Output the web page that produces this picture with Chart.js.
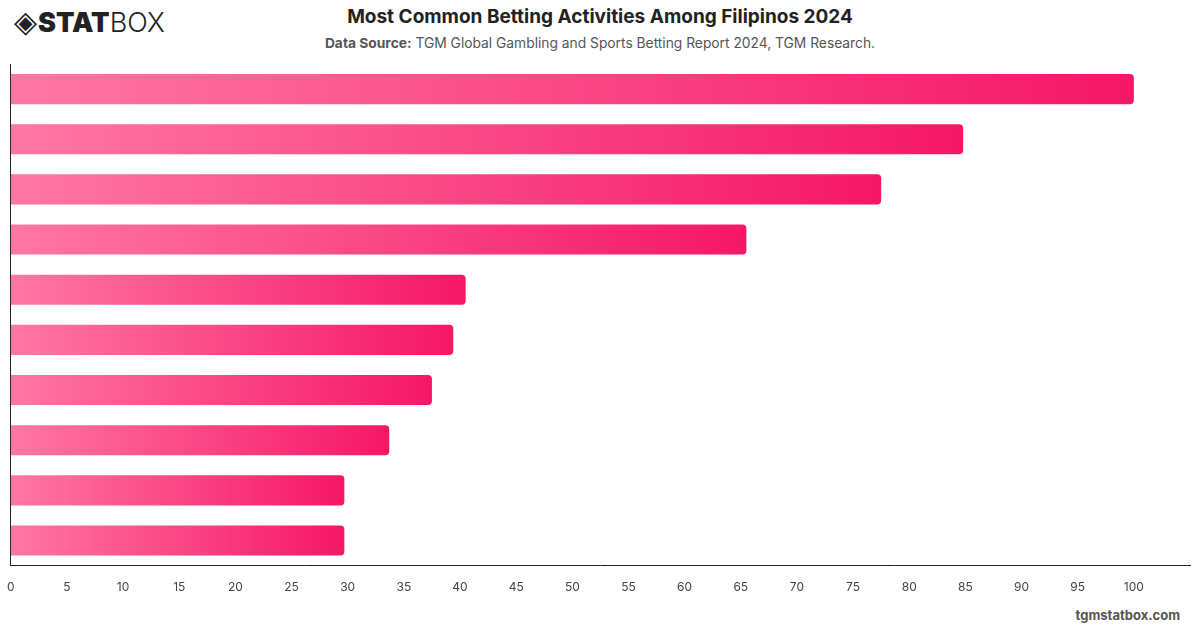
<!DOCTYPE html>
<html>
<head>
<meta charset="utf-8">
<script src="https://cdn.jsdelivr.net/npm/chart.js@4.4.0/dist/chart.umd.min.js"></script>
<style>
  body { margin: 0; width: 1200px; height: 628px; background: #fff; font-family: Inter, "Helvetica Neue", Arial, sans-serif; position: relative; overflow: hidden; }
  #logo { position: absolute; left: 14px; top: 4px; font-size: 27px; color: #222; white-space: nowrap; }
  #logo .ico { font-family: "DejaVu Sans"; font-size: 30px; margin-right: 1px; }
  #logo .b { font-weight: 900; }
  #logo .l { font-weight: 300; }
  #title { position: absolute; top: 5px; left: 0; width: 1200px; text-align: center; font-size: 19px; font-weight: 700; color: #222; }
  #subtitle { position: absolute; top: 35px; left: 0; width: 1200px; text-align: center; font-size: 13.8px; color: #555; }
  #subtitle b { color: #555; }
  #footer { position: absolute; right: 20px; top: 607px; font-size: 13px; font-weight: 700; color: #555; }
  #wrap { position: absolute; left: 0; top: 56px; width: 1200px; height: 546px; }
</style>
</head>
<body>
<div id="logo"><span class="ico">&#x25C8;</span><span class="b">STAT</span><span class="l">BOX</span></div>
<div id="title">Most Common Betting Activities Among Filipinos 2024</div>
<div id="subtitle"><b>Data Source:</b> TGM Global Gambling and Sports Betting Report 2024, TGM Research.</div>
<div id="wrap"><canvas id="chart"></canvas></div>
<div id="footer">tgmstatbox.com</div>
<script>
// categories are hidden in the picture, names are placeholders for tooltips
const activities = [
    'Lottery', 'Sports Betting', 'Cockfighting', 'Online Casino', 'Bingo',
    'Card Games', 'Esports Betting', 'Horse Racing', 'Slot Machines', 'Poker'
];
const shares = [100, 84.8, 77.5, 65.5, 40.5, 39.4, 37.5, 33.7, 29.7, 29.7];
const xTicks = [0, 5, 10, 15, 20, 25, 30, 35, 40, 45, 50, 55, 60, 65, 70, 75, 80, 85, 90, 95, 100];

function barGradient(context) {
    const chart = context.chart;
    const area = chart.chartArea;
    if (!area) return '#fa3a7a';
    const x = chart.scales.x;
    const end = x.getPixelForValue(context.raw || 0);
    const g = chart.ctx.createLinearGradient(area.left, 0, Math.max(end, area.left + 1), 0);
    g.addColorStop(0, '#ff77a4');
    g.addColorStop(1, '#f51766');
    return g;
}

new Chart(document.getElementById('chart'), {
    type: 'bar',
    data: {
        labels: activities,
        datasets: [{
            data: shares,
            backgroundColor: barGradient,
            borderRadius: 4,
            borderSkipped: 'start',
            barPercentage: 0.6,
            categoryPercentage: 1,
        }],
    },
    options: {
        indexAxis: 'y',
        responsive: true,
        maintainAspectRatio: false,
        animation: false,
        layout: { padding: { left: 9, right: 10, top: 8, bottom: 0 } },
        scales: {
            x: {
                min: 0,
                max: 105,
                afterBuildTicks: axis => { axis.ticks = xTicks.map(v => ({ value: v })); },
                ticks: { color: '#444', font: { size: 12, family: 'Inter' }, padding: 7, maxRotation: 0 },
                grid: { display: false },
                border: { display: true, color: '#222', width: 1 },
            },
            y: {
                afterFit: axis => { axis.width = 1; },
                ticks: { display: false },
                grid: { display: false, drawTicks: false },
                border: { display: true, color: '#222', width: 1 },
            },
        },
        plugins: {
            legend: { display: false },
            tooltip: { enabled: true },
        },
    },
});
</script>
</body>
</html>
